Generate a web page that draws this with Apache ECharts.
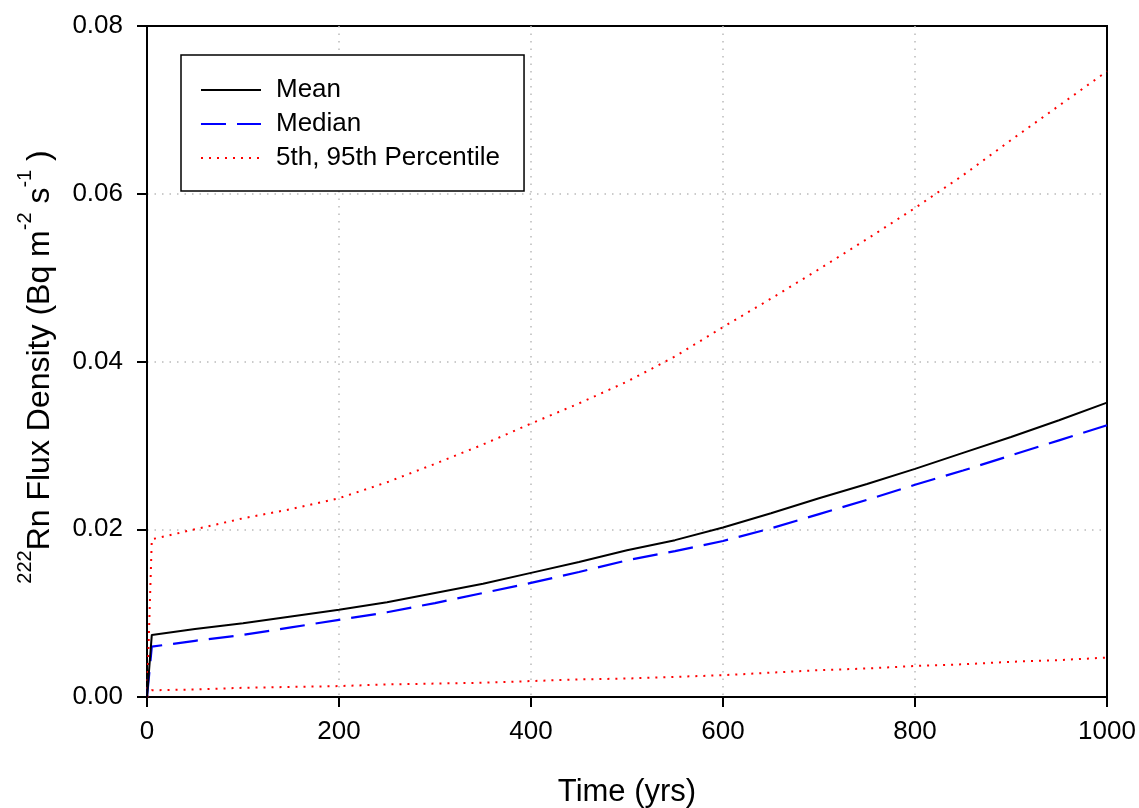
<!DOCTYPE html>
<html>
<head>
<meta charset="utf-8">
<script src="https://cdn.jsdelivr.net/npm/echarts@6/dist/echarts.min.js"></script>
<style>
html,body{margin:0;padding:0;background:#fff;}
#c{width:1139px;height:808px;}
</style>
</head>
<body>
<div id="c"></div>
<script>
const years = [0,5,50,100,150,200,250,300,350,400,450,500,550,600,650,700,750,800,850,900,950,1000];
const meanVals = [0,0.0074,0.0081,0.0088,0.0096,0.0104,0.0113,0.0124,0.0135,0.0148,0.0161,0.0175,0.0187,0.0202,0.0219,0.0237,0.0254,0.0272,0.0291,0.0310,0.0330,0.0351];
const medianVals = [0,0.0060,0.0067,0.0074,0.0083,0.0092,0.0101,0.0112,0.0124,0.0136,0.0149,0.0163,0.0174,0.0186,0.0201,0.0218,0.0235,0.0253,0.0270,0.0288,0.0306,0.0324];
const p95Vals = [0,0.0188,0.0200,0.0213,0.0224,0.0237,0.0256,0.0278,0.0301,0.0326,0.0350,0.0376,0.0406,0.0441,0.0475,0.0510,0.0546,0.0583,0.0622,0.0664,0.0705,0.0746];
const p5Vals = [0,0.0008,0.0009,0.0011,0.0012,0.0013,0.0015,0.0016,0.0017,0.0019,0.0021,0.0022,0.0024,0.0026,0.0029,0.0032,0.0034,0.0037,0.0039,0.0042,0.0044,0.0047];
const xTicks = [0,200,400,600,800,1000];
const yTicks = [0,0.02,0.04,0.06,0.08];
const seriesNames = ['Mean','Median','5th, 95th Percentile'];

const pairs = vals => years.map((x,i)=>[x, vals[i]]);
const FONT = 'Liberation Sans';

const chart = echarts.init(document.getElementById('c'), null, {renderer:'canvas'});
chart.setOption({
  animation:false,
  backgroundColor:'#fff',
  textStyle:{fontFamily:FONT},
  grid:{left:147, right:32, top:26, bottom:111, show:true, borderColor:'#000', borderWidth:2,
        backgroundColor:'transparent', outerBoundsMode:'none', containLabel:false},
  legend:{
    data:seriesNames,
    orient:'vertical',
    left:181, top:55,
    padding:[22,24,20,19],
    itemWidth:60, itemHeight:14, itemGap:8,
    backgroundColor:'#fff', borderColor:'#000', borderWidth:1.5, borderRadius:0,
    itemStyle:{opacity:0},
    textStyle:{fontFamily:FONT, fontSize:26, color:'#000', lineHeight:26, padding:[0,0,0,10]},
    selectedMode:false
  },
  xAxis:{
    type:'value', min:xTicks[0], max:xTicks[xTicks.length-1], interval:200,
    name:'Time (yrs)', nameLocation:'middle', nameGap:80,
    nameTextStyle:{fontFamily:FONT, fontSize:31, color:'#000'},
    axisLine:{show:true, onZero:false, lineStyle:{color:'#000', width:2}},
    axisTick:{show:true, inside:false, length:10, lineStyle:{color:'#000', width:2}},
    axisLabel:{fontFamily:FONT, fontSize:26, color:'#000', margin:22, formatter:v=>String(v)},
    splitLine:{show:true, showMinLine:false, showMaxLine:false, lineStyle:{color:'#bbb', width:1.5, type:[1.5,6]}}
  },
  yAxis:{
    type:'value', min:yTicks[0], max:yTicks[yTicks.length-1], interval:0.02,
    axisLine:{show:true, onZero:false, lineStyle:{color:'#000', width:2}},
    axisTick:{show:true, inside:false, length:10, lineStyle:{color:'#000', width:2}},
    axisLabel:{fontFamily:FONT, fontSize:26, color:'#000', margin:24, formatter:v=>v.toFixed(2)},
    splitLine:{show:true, showMinLine:false, showMaxLine:false, lineStyle:{color:'#bbb', width:1.5, type:[1.5,6]}}
  },
  graphic:[{
    type:'text', x:40, y:367, rotation:Math.PI/2,
    style:{
      text:'{sup|222}{b|Rn Flux Density (Bq m}{sup|-2}{b| s}{sup|-1}{b| )}',
      align:'center', verticalAlign:'middle',
      rich:{
        b:{fontFamily:FONT, fontSize:32, fill:'#000', lineHeight:50},
        sup:{fontFamily:FONT, fontSize:20, fill:'#000', lineHeight:20, verticalAlign:'top'}
      }
    }
  }],
  series:[
    {name:seriesNames[0], type:'line', data:pairs(meanVals), symbol:'none', showSymbol:false,
     lineStyle:{color:'#000', width:2, type:'solid'}, itemStyle:{color:'#000'}, z:5},
    {name:seriesNames[1], type:'line', data:pairs(medianVals), symbol:'none', showSymbol:false,
     lineStyle:{color:'#0000ff', width:2.2, type:[25,11]}, itemStyle:{color:'#0000ff'}, z:4},
    {name:seriesNames[2], type:'line', data:pairs(p95Vals), symbol:'none', showSymbol:false,
     lineStyle:{color:'#ff0000', width:2, type:[2,6]}, itemStyle:{color:'#ff0000'}, z:3},
    {name:seriesNames[2], type:'line', data:pairs(p5Vals), symbol:'none', showSymbol:false,
     lineStyle:{color:'#ff0000', width:2, type:[2,6]}, itemStyle:{color:'#ff0000'}, z:3}
  ]
});
</script>
</body>
</html>
